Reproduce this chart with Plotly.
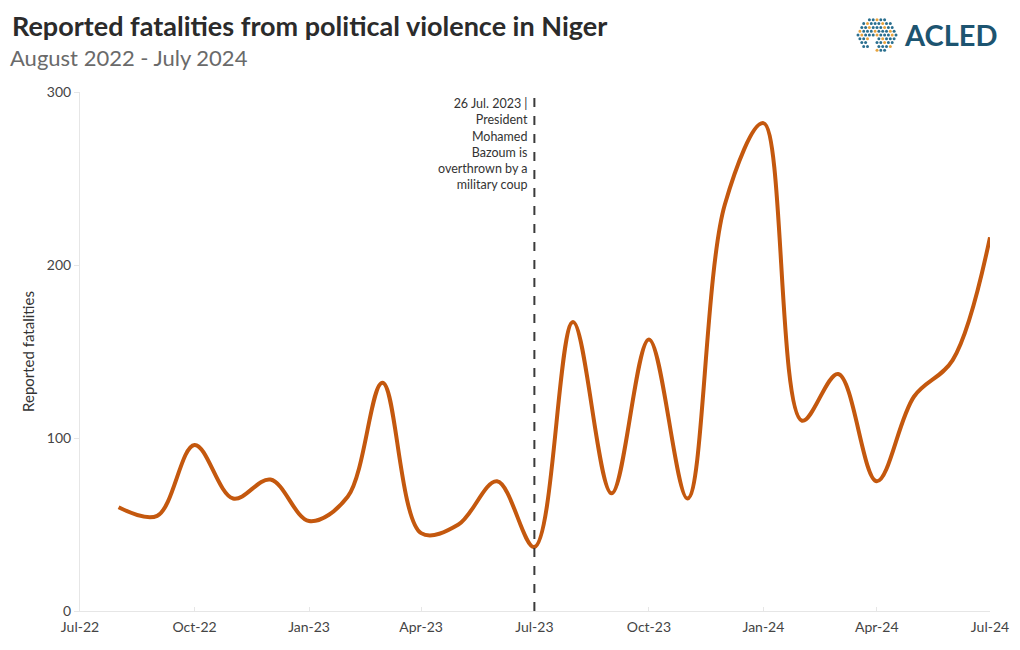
import plotly.graph_objects as go

months = ["2022-08-01", "2022-09-01", "2022-10-01", "2022-11-01", "2022-12-01",
          "2023-01-01", "2023-02-01", "2023-03-01", "2023-04-01", "2023-05-01",
          "2023-06-01", "2023-07-01", "2023-08-01", "2023-09-01", "2023-10-01",
          "2023-11-01", "2023-12-01", "2024-01-01", "2024-02-01", "2024-03-01",
          "2024-04-01", "2024-05-01", "2024-06-01", "2024-07-01"]
fatalities = [60, 55, 96, 65, 76, 52, 66, 132, 45, 50, 75, 37, 167, 68, 157,
              65, 235, 282, 110, 137, 75, 124, 145, 216]
tick_vals = ["2022-07-01", "2022-10-01", "2023-01-01", "2023-04-01", "2023-07-01",
             "2023-10-01", "2024-01-01", "2024-04-01", "2024-07-01"]
tick_text = ["Jul-22", "Oct-22", "Jan-23", "Apr-23", "Jul-23", "Oct-23",
             "Jan-24", "Apr-24", "Jul-24"]
event_date = "2023-07-01"
event_text = "26 Jul. 2023 |<br>President<br>Mohamed<br>Bazoum is<br>overthrown by a<br>military coup"

FONT = "Lato, 'Open Sans', sans-serif"
PW, PH = 910, 519  # plot area size in px

fig = go.Figure()
fig.add_trace(go.Scatter(
    x=months, y=fatalities, mode="lines",
    line=dict(color="#C4580E", width=4, shape="spline", smoothing=1.0),
    hoverinfo="x+y", showlegend=False,
))

fig.add_shape(type="line", xref="x", yref="y", x0=event_date, x1=event_date,
              y0=0, y1=300, line=dict(color="#3a3a3a", width=2, dash="dash"))
fig.add_annotation(x=event_date, y=299, xref="x", yref="y", text=event_text,
                   showarrow=False, xanchor="right", yanchor="top", align="right",
                   xshift=-4, font=dict(family=FONT, size=12.5, color="#333333"))

# Title and subtitle
fig.add_annotation(x=-70/PW, y=1 + 48/PH, xref="paper", yref="paper",
                   text="<b>Reported fatalities from political violence in Niger</b>",
                   showarrow=False, xanchor="left", yanchor="bottom",
                   font=dict(family=FONT, size=27, color="#2b2b2b"))
fig.add_annotation(x=-72/PW, y=1 + 50/PH, xref="paper", yref="paper",
                   text="August 2022 - July 2024",
                   showarrow=False, xanchor="left", yanchor="top",
                   font=dict(family=FONT, size=22, color="#6a6a6a"))
# Logo text
fig.add_annotation(x=1 + 10/PW, y=1 + 58/PH, xref="paper", yref="paper",
                   text="<b>ACLED</b>", showarrow=False, xanchor="right", yanchor="middle",
                   font=dict(family=FONT, size=29, color="#1d5470"))

# Logo globe: small decorative dot cluster
dots = []
cx, cy = 877, 35
for i in range(-5, 6):
    for j in range(-4, 5):
        px = cx + i * 3.8 + (1.9 if j % 2 else 0)
        py = cy + j * 3.8
        if ((px - cx) / 20) ** 2 + ((py - cy) / 17) ** 2 <= 1 and not (-2 <= i <= -1 and j >= 1):
            dots.append((px, py, "#e8a33d" if (i * 3 + j) % 4 == 0 else "#2a6f8f"))
for px, py, c in dots:
    x0 = (px - 80) / PW
    y0 = (611 - py) / PH
    fig.add_shape(type="circle", xref="paper", yref="paper",
                  x0=x0 - 1.5/PW, x1=x0 + 1.5/PW, y0=y0 - 1.5/PH, y1=y0 + 1.5/PH,
                  line=dict(width=0), fillcolor=c)

fig.update_layout(
    width=1020, height=650,
    margin=dict(l=80, r=30, t=92, b=39),
    paper_bgcolor="white", plot_bgcolor="white",
    font=dict(family=FONT, color="#444444", size=14),
    xaxis=dict(type="date", range=["2022-07-01", "2024-07-01"],
               tickvals=tick_vals, ticktext=tick_text,
               showgrid=False, zeroline=False,
               showline=True, linecolor="#e6e6e6", linewidth=1,
               ticks="inside", ticklen=4, tickcolor="#e6e6e6",
               ticklabelstandoff=3,
               tickfont=dict(family=FONT, size=14, color="#444444")),
    yaxis=dict(range=[0, 300], tickvals=[0, 100, 200, 300],
               showgrid=False, zeroline=False,
               showline=True, linecolor="#e6e6e6", linewidth=1,
               ticks="outside", ticklen=5, tickcolor="#e6e6e6",
               tickfont=dict(family=FONT, size=14, color="#444444"),
               title=dict(text="Reported fatalities", standoff=8,
                          font=dict(family=FONT, size=15, color="#333333"))),
)

fig.write_html("out.html", post_script="document.body.style.margin='0';",
               config={"displayModeBar": False})
